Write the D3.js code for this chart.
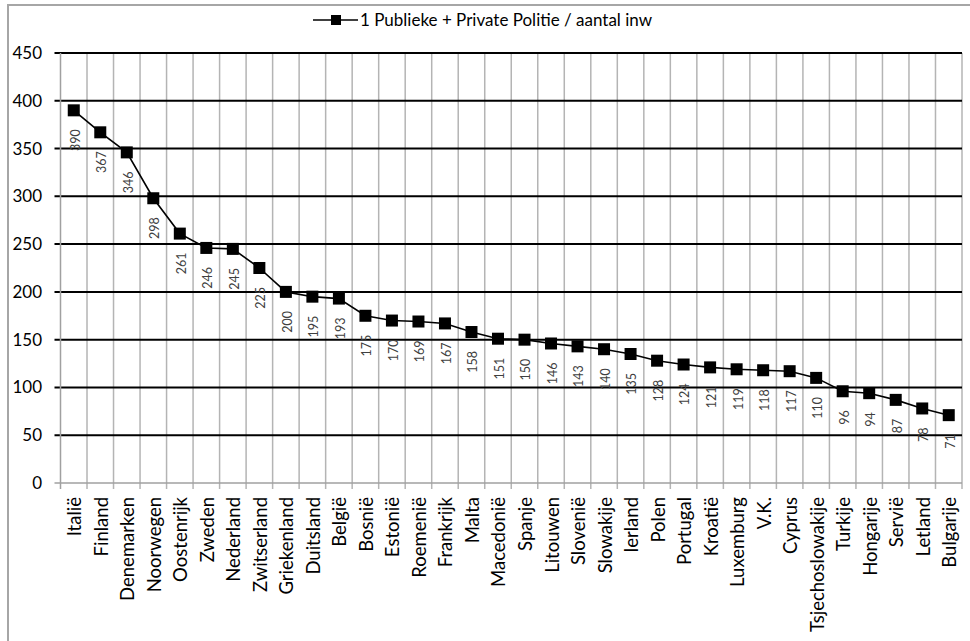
<!DOCTYPE html>
<html>
<head>
<meta charset="utf-8">
<script src="https://cdn.jsdelivr.net/npm/d3@7/dist/d3.min.js"></script>
<style>
  html, body { margin: 0; padding: 0; background: #fff; }
  svg { display: block; }
  text { font-family: Lato, "Liberation Sans", sans-serif; }
</style>
</head>
<body>
<svg id="chart" width="970" height="641"></svg>
<script>
// Police per population, per country
const countries = ["Italië", "Finland", "Denemarken", "Noorwegen", "Oostenrijk", "Zweden",
  "Nederland", "Zwitserland", "Griekenland", "Duitsland", "België", "Bosnië", "Estonië",
  "Roemenië", "Frankrijk", "Malta", "Macedonië", "Spanje", "Litouwen", "Slovenië",
  "Slowakije", "Ierland", "Polen", "Portugal", "Kroatië", "Luxemburg", "V.K.", "Cyprus",
  "Tsjechoslowakije", "Turkije", "Hongarije", "Servië", "Letland", "Bulgarije"];
const policeValues = [390, 367, 346, 298, 261, 246, 245, 225, 200, 195, 193, 175, 170,
  169, 167, 158, 151, 150, 146, 143, 140, 135, 128, 124, 121, 119, 118, 117,
  110, 96, 94, 87, 78, 71];
const yTicks = [0, 50, 100, 150, 200, 250, 300, 350, 400, 450];
const seriesName = "1 Publieke + Private Politie / aantal inw";

const svg = d3.select("#chart");
const plot = { left: 60.5, right: 962, top: 53, bottom: 483 };

const x = d3.scaleBand().domain(countries).range([plot.left, plot.right]).paddingInner(0).paddingOuter(0);
const y = d3.scaleLinear().domain([0, 450]).range([plot.bottom, plot.top]);

// outer chart frame (continues past the right and bottom edges)
svg.append("rect")
  .attr("x", 8).attr("y", 5).attr("width", 1000).attr("height", 700)
  .attr("fill", "none").attr("stroke", "#a6a6a6").attr("stroke-width", 2);

// vertical gridlines at category boundaries
const bounds = countries.map(c => x(c)).concat([plot.right]);
svg.append("g").selectAll("line").data(bounds.slice(1)).join("line")
  .attr("x1", d => d).attr("x2", d => d)
  .attr("y1", plot.top).attr("y2", plot.bottom + 6)
  .attr("stroke", "#b4b4b4").attr("stroke-width", 1.5);

// horizontal gridlines
svg.append("g").selectAll("line").data(yTicks.filter(t => t > 0)).join("line")
  .attr("x1", plot.left - 6).attr("x2", plot.right)
  .attr("y1", d => y(d)).attr("y2", d => y(d))
  .attr("stroke", "#000").attr("stroke-width", 2);

// axes lines
svg.append("line")
  .attr("x1", plot.left).attr("x2", plot.left).attr("y1", plot.top).attr("y2", plot.bottom + 6)
  .attr("stroke", "#a0a0a0").attr("stroke-width", 1.5);
svg.append("line")
  .attr("x1", plot.left - 6).attr("x2", plot.right).attr("y1", plot.bottom).attr("y2", plot.bottom)
  .attr("stroke", "#a0a0a0").attr("stroke-width", 1.5);

// y tick labels
svg.append("g").selectAll("text").data(yTicks).join("text")
  .attr("x", 42).attr("y", d => y(d)).attr("dy", "0.35em")
  .attr("text-anchor", "end").attr("font-size", 17).attr("fill", "#000")
  .text(d => d);

// x category labels
svg.append("g").selectAll("text").data(countries).join("text")
  .attr("transform", d => `translate(${x(d) + x.bandwidth() / 2 + 1},497) rotate(-90)`)
  .attr("dy", "0.35em").attr("text-anchor", "end")
  .attr("font-size", 18.5).attr("fill", "#000")
  .text(d => d);

const pts = countries.map((c, i) => ({ c, v: policeValues[i] }));
const cx = d => x(d.c) + x.bandwidth() / 2;

// series line
svg.append("path")
  .datum(pts)
  .attr("fill", "none").attr("stroke", "#000").attr("stroke-width", 1.6)
  .attr("d", d3.line().x(cx).y(d => y(d.v)));

// markers
svg.append("g").selectAll("rect").data(pts).join("rect")
  .attr("x", d => cx(d) - 6).attr("y", d => y(d.v) - 6)
  .attr("width", 12).attr("height", 12).attr("fill", "#000");

// value labels below markers
svg.append("g").selectAll("text").data(pts).join("text")
  .attr("transform", d => `translate(${cx(d) + 1.5},${y(d.v) + 19}) rotate(-90)`)
  .attr("dy", "0.35em").attr("text-anchor", "end")
  .attr("font-size", 12.5).attr("fill", "#404040")
  .text(d => d.v);

// legend
const lg = svg.append("g");
lg.append("line").attr("x1", 313).attr("x2", 358).attr("y1", 20).attr("y2", 20)
  .attr("stroke", "#000").attr("stroke-width", 1.6);
lg.append("rect").attr("x", 331).attr("y", 15).attr("width", 10).attr("height", 10).attr("fill", "#000");
lg.append("text").attr("x", 360).attr("y", 20).attr("dy", "0.35em")
  .attr("font-size", 17).attr("fill", "#000").text(seriesName);
</script>
</body>
</html>
